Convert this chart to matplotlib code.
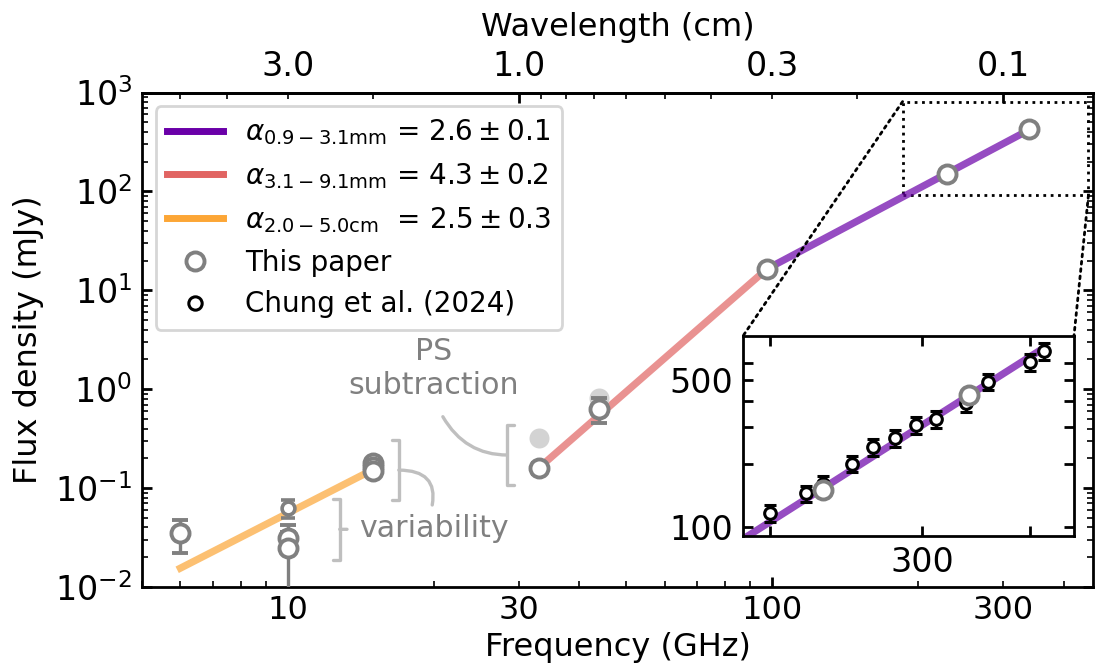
import numpy as np
import matplotlib
matplotlib.use('Agg')
import matplotlib.pyplot as plt
from matplotlib.lines import Line2D
from matplotlib.patches import Rectangle, ConnectionPatch
from matplotlib.ticker import FuncFormatter, NullLocator

C_CM_GHZ = 29.9792458

# this paper
freq = [6.0, 10.0, 10.0, 15.0, 15.0, 15.0, 33.0, 44.0, 97.5, 230.0, 340.0]
flux = [0.035, 0.031, 0.025, 0.18, 0.165, 0.15, 0.16, 0.63, 16.4, 150.0, 425.0]
flux_err = [0.013, 0.005, 0.017, 0.01, 0.01, 0.01, 0.02, 0.18, 1.0, 8.0, 20.0]

# 10 GHz archival epoch (smaller symbol)
freq_small = [10.0]
flux_small = [0.063]
flux_small_err = [0.013]

# 33 and 44 GHz before point-source subtraction
freq_ps = [33.0, 44.0]
flux_ps = [0.32, 0.81]

# Chung et al. (2024)
freq_chung = [200, 220, 230, 249, 263, 279, 295, 311, 337, 358, 400, 415]
flux_chung = [117, 145, 161, 201, 241, 265, 307, 326, 388, 491, 609, 685]
flux_chung_err = [11, 13, 14, 18, 22, 24, 28, 29, 35, 44, 55, 62]

# spectral index fits (end points of the power laws)
fit_cm_f, fit_cm_s = [6.0, 15.0], [0.0155, 0.154]
fit_3mm_f, fit_3mm_s = [33.0, 97.5], [0.16, 16.4]
fit_1mm_f, fit_1mm_s = [97.5, 340.0], [16.4, 421.0]
fit_1mm_ins_f, fit_1mm_ins_s = [97.5, 415.0], [16.4, 710.0]

fit_labels = [r'$\alpha_{0.9-3.1\mathrm{mm}}$ = $2.6 \pm 0.1$',
              r'$\alpha_{3.1-9.1\mathrm{mm}}$ = $4.3 \pm 0.2$',
              r'$\alpha_{2.0-5.0\mathrm{cm}}$  = $2.5 \pm 0.3$']

freq_ticklabels = [10, 30, 100, 300]
wl_major = [1.0, 0.1]
wl_minor = [5, 4, 3, 2, 0.9, 0.8, 0.7, 0.6, 0.5, 0.4, 0.3, 0.2]
wl_minor_labels = ['', '', '3.0', '', '', '', '', '', '', '', '0.3', '']

ins_xlim = (186, 450)
ins_ylim = (91, 810)

PURPLE = '#6a00a8'
RED = '#e16462'
ORANGE = '#fca636'

plt.rcParams['font.size'] = 11


def ghz_to_cm(f):
    f = np.asarray(f, dtype=float)
    with np.errstate(divide='ignore'):
        return C_CM_GHZ / f


def freq_fmt(v, pos):
    for t in freq_ticklabels:
        if np.isclose(v, t):
            return '%g' % t
    return ''


fig = plt.figure(figsize=(5.48, 3.35), dpi=200)
ax = fig.add_axes([0.1296, 0.1239, 0.8677, 0.738])
ax.set_xscale('log')
ax.set_yscale('log')
ax.set_xlim(5, 460)
ax.set_ylim(1e-2, 1e3)

ax.plot(fit_cm_f, fit_cm_s, color=ORANGE, lw=2.6, alpha=0.7, zorder=1)
ax.plot(fit_3mm_f, fit_3mm_s, color=RED, lw=2.6, alpha=0.7, zorder=1)
ax.plot(fit_1mm_f, fit_1mm_s, color=PURPLE, lw=2.6, alpha=0.7, zorder=1)

ax.plot(freq_ps, flux_ps, 'o', color='lightgrey', ms=7.2, mew=0, zorder=1.5)
ax.errorbar(freq_small, flux_small, yerr=flux_small_err, fmt='o', ms=4.6,
            mfc='white', mec='grey', mew=1.3, ecolor='grey', elinewidth=1.2,
            capsize=2.5, capthick=1.2, zorder=2.5)
ax.errorbar(freq, flux, yerr=flux_err, fmt='o', ms=6.5, mfc='white',
            mec='grey', mew=1.4, ecolor='grey', elinewidth=1.2, capsize=3,
            capthick=1.2, zorder=3)

# annotations
grey_line = dict(color='#bfbfbf', lw=1.2, shrinkA=0, shrinkB=0,
                 mutation_scale=10)
ax.text(20.0, 1.63, 'PS\nsubtraction', ha='center', va='center',
        color='grey', fontsize=10.8, linespacing=1.2)
ax.annotate('', xy=(28.4, 0.216), xytext=(20.9, 0.527),
            arrowprops=dict(arrowstyle='-[, widthB=1.08, lengthB=0.25',
                            connectionstyle='angle3,angleA=-60,angleB=0',
                            **grey_line))
ax.text(20.0, 0.0392, 'variability', ha='center', va='center',
        color='grey', fontsize=10.8)
ax.annotate('', xy=(16.95, 0.152), xytext=(19.87, 0.0675),
            arrowprops=dict(arrowstyle='-[, widthB=1.08, lengthB=0.25',
                            connectionstyle='angle3,angleA=80,angleB=0',
                            **grey_line))
ax.annotate('', xy=(12.8, 0.0383), xytext=(13.25, 0.0383),
            arrowprops=dict(arrowstyle='-[, widthB=1.1, lengthB=0.25',
                            **grey_line))

ax.set_xlabel('Frequency (GHz)', fontsize=11.5, labelpad=2)
ax.set_ylabel('Flux density (mJy)', fontsize=11.5)
ax.xaxis.set_major_formatter(FuncFormatter(freq_fmt))
ax.xaxis.set_minor_formatter(FuncFormatter(freq_fmt))
ax.tick_params(which='both', direction='in', top=False, right=True,
               labelsize=12)
ax.tick_params(axis='x', which='both', labelsize=11.5, pad=3)
ax.tick_params(which='major', width=1.0)
for s in ax.spines.values():
    s.set_linewidth(1.0)

sec = ax.secondary_xaxis('top', functions=(ghz_to_cm, ghz_to_cm))
sec.set_xlabel('Wavelength (cm)', fontsize=11.5, labelpad=5)
sec.set_ticks(wl_major, labels=['%.1f' % w for w in wl_major])
sec.set_ticks(wl_minor, labels=wl_minor_labels, minor=True)
sec.tick_params(which='both', direction='in', labelsize=12)
sec.tick_params(which='major', width=1.0)
sec.spines['top'].set_linewidth(1.0)

handles = [Line2D([], [], color=PURPLE, lw=2.5),
           Line2D([], [], color=RED, lw=2.5),
           Line2D([], [], color=ORANGE, lw=2.5),
           Line2D([], [], ls='none', marker='o', ms=6.5, mfc='white',
                  mec='grey', mew=1.4),
           Line2D([], [], ls='none', marker='o', ms=4.8, mfc='white',
                  mec='k', mew=1.1)]
ax.legend(handles, fit_labels + ['This paper', 'Chung et al. (2024)'],
          loc='upper left', fontsize=10, handlelength=2.0)

# inset
axins = fig.add_axes([0.6779, 0.2, 0.302, 0.2985])
axins.set_xscale('log')
axins.set_yscale('log')
axins.plot(fit_1mm_ins_f, fit_1mm_ins_s, color=PURPLE, lw=2.6, alpha=0.7,
           zorder=1)
axins.errorbar(freq_chung, flux_chung, yerr=flux_chung_err, fmt='o', ms=4.2,
               mfc='white', mec='k', mew=1.1, ecolor='k', elinewidth=1.1,
               capsize=2, capthick=1.1, zorder=2)
axins.plot(freq[-2:], flux[-2:], 'o', ms=6.5, mfc='white', mec='grey',
           mew=1.4, zorder=3)
axins.set_xlim(*ins_xlim)
axins.set_ylim(*ins_ylim)
axins.set_xticks([200, 300, 400], ['', '300', ''])
axins.xaxis.set_minor_locator(NullLocator())
axins.set_yticks([100, 200, 300, 400, 500, 600],
                 ['100', '', '', '', '500', ''])
axins.yaxis.set_minor_locator(NullLocator())
axins.tick_params(which='both', direction='in', top=True, right=True,
                  labelsize=12, width=1.0)
for s in axins.spines.values():
    s.set_linewidth(1.0)

# zoom box
x0, x1 = ins_xlim
y0, y1 = ins_ylim
ax.add_patch(Rectangle((x0, y0), x1 - x0, y1 - y0, fill=False, ls=':',
                       lw=1.0, ec='k', zorder=0.5))
for xyA, xyB in [((x0, y1), (0, 1)), ((x1, y0), (1, 1))]:
    con = ConnectionPatch(xyA=xyA, coordsA=ax.transData, xyB=xyB,
                          coordsB=axins.transAxes, ls=':', lw=1.0, color='k')
    fig.add_artist(con)

fig.savefig('out.png', dpi=200)
